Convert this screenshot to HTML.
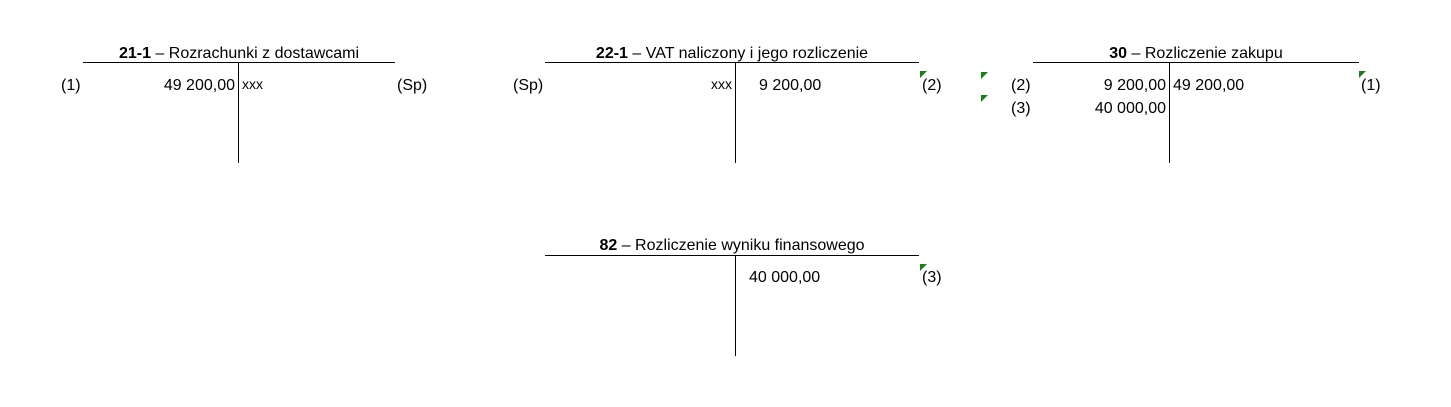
<!DOCTYPE html>
<html><head><meta charset="utf-8"><style>
body{margin:0;width:1451px;height:407px;background:#fff;position:relative;overflow:hidden;font-family:"Liberation Sans",sans-serif;font-size:16px;color:#000}
.t{position:absolute;white-space:nowrap;line-height:18px}
.h{position:absolute;height:1px;background:#000}
.v{position:absolute;width:1px;background:#000}
.g{position:absolute;width:0;height:0;border-top:7px solid #1a7f1a;border-right:7px solid transparent}
.r{text-align:right}
.s{font-size:14px}
</style></head><body>
<!-- 21-1 -->
<div class="t" style="left:83px;width:312px;top:45px;text-align:center"><b>21-1</b> – Rozrachunki z dostawcami</div>
<div class="h" style="left:83px;top:62px;width:312px"></div>
<div class="v" style="left:238px;top:62px;height:101px"></div>
<div class="t" style="left:61px;top:77px">(1)</div>
<div class="t r" style="left:130px;width:105px;top:77px">49 200,00</div>
<div class="t s" style="left:242px;top:75px">xxx</div>
<div class="t" style="left:397px;top:77px">(Sp)</div>
<!-- 22-1 -->
<div class="t" style="left:545px;width:374px;top:45px;text-align:center"><b>22-1</b> – VAT naliczony i jego rozliczenie</div>
<div class="h" style="left:545px;top:62px;width:374px"></div>
<div class="v" style="left:735px;top:62px;height:101px"></div>
<div class="t" style="left:513px;top:77px">(Sp)</div>
<div class="t s r" style="left:680px;width:52px;top:75px">xxx</div>
<div class="t" style="left:759px;top:77px">9 200,00</div>
<div class="g" style="left:920px;top:71px"></div>
<div class="t" style="left:922px;top:77px">(2)</div>
<!-- 30 -->
<div class="t" style="left:1033px;width:326px;top:45px;text-align:center"><b>30</b> – Rozliczenie zakupu</div>
<div class="h" style="left:1033px;top:62px;width:326px"></div>
<div class="v" style="left:1169px;top:62px;height:101px"></div>
<div class="g" style="left:981px;top:72px"></div>
<div class="g" style="left:981px;top:95px"></div>
<div class="t" style="left:1011px;top:77px">(2)</div>
<div class="t" style="left:1011px;top:100px">(3)</div>
<div class="t r" style="left:1060px;width:106px;top:77px">9 200,00</div>
<div class="t r" style="left:1060px;width:106px;top:100px">40 000,00</div>
<div class="t" style="left:1173px;top:77px">49 200,00</div>
<div class="g" style="left:1359px;top:71px"></div>
<div class="t" style="left:1361px;top:77px">(1)</div>
<!-- 82 -->
<div class="t" style="left:545px;width:374px;top:237px;text-align:center"><b>82</b> – Rozliczenie wyniku finansowego</div>
<div class="h" style="left:545px;top:255px;width:374px"></div>
<div class="v" style="left:735px;top:255px;height:101px"></div>
<div class="t" style="left:749px;top:269px">40 000,00</div>
<div class="g" style="left:920px;top:264px"></div>
<div class="t" style="left:922px;top:269px">(3)</div>
</body></html>
